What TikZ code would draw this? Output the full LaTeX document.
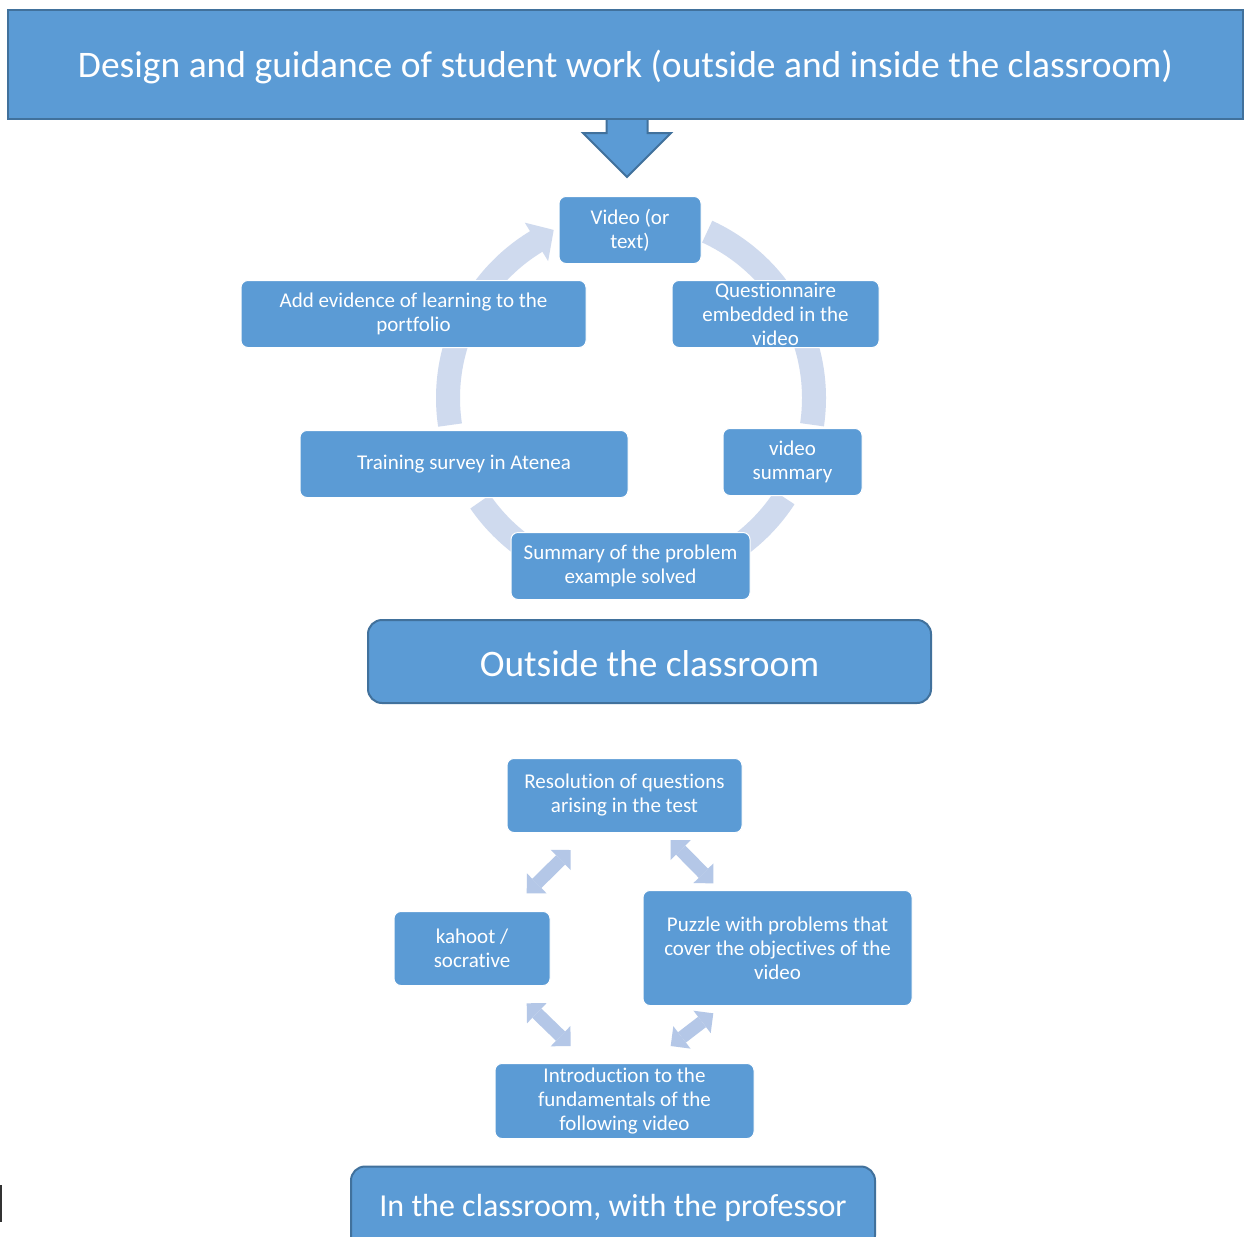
\documentclass[tikz,border=0pt]{standalone}
\usepackage{fontspec}
\setmainfont{Carlito}[Ligatures=NoCommon]
\usetikzlibrary{arrows.meta}
\definecolor{boxc}{HTML}{5B9BD5}
\definecolor{edgec}{HTML}{41719C}
\definecolor{ringc}{HTML}{CFDAEE}
\definecolor{arrc}{HTML}{B4C7E7}
\begin{document}
\begin{tikzpicture}[x=0.5pt,y=-0.5pt,
  cbox/.style={draw=white, line width=0.5pt, fill=boxc, rounded corners=3.5pt, text=white,
    align=center, inner sep=0pt, font=\fontsize{10.5}{12}\selectfont},
  bigbox/.style={draw=edgec, line width=1pt, fill=boxc, rounded corners=7pt, text=white,
    align=center, inner sep=0pt},
  ring/.style={draw=ringc, line width=12pt},
  dbl/.style={draw=arrc, line width=6.5pt,
    {Triangle[length=7.07pt,width=14.14pt,line width=0pt]}-{Triangle[length=7.07pt,width=14.14pt,line width=0pt]}}
]
\clip (0,0) rectangle (1245,1236);
\fill[white] (0,0) rectangle (1245,1236);

% top block arrow
\filldraw[fill=boxc, draw=edgec, line width=1pt]
  (606.5,112) -- (606.5,133) -- (583,133) -- (627,177) -- (671,133) -- (647.5,133) -- (647.5,112) -- cycle;
% banner
\node[bigbox, rounded corners=0pt, minimum width=617.5pt, minimum height=54.5pt,
  font=\fontsize{18.75}{22}\selectfont] (title) at (625.5,64.5)
  {\raisebox{-1.5pt}[\height][\depth]{Design and guidance of student work (outside and inside the classroom)}};

% ring arcs
\coordinate (cc) at (631,398);
\begin{scope}[shift={(cc)}]
  \draw[ring] plot[domain=-65.4:-35, samples=30, variable=\t] ({183*cos(\t)},{183*sin(\t)});
  \draw[ring] plot[domain=-20:8.4, samples=30, variable=\t] ({183*cos(\t)},{183*sin(\t)});
  \draw[ring] plot[domain=33:56, samples=30, variable=\t] ({183*cos(\t)},{183*sin(\t)});
  \draw[ring] plot[domain=125:145.5, samples=30, variable=\t] ({183*cos(\t)},{183*sin(\t)});
  \draw[ring] plot[domain=171.5:200, samples=30, variable=\t] ({183*cos(\t)},{183*sin(\t)});
  \draw[ring] plot[domain=215:239, samples=30, variable=\t] ({183*cos(\t)},{183*sin(\t)});
  \fill[ringc] (238.8:160) -- (245.3:185) -- (238.8:205) -- cycle;
\end{scope}

% cycle boxes
\node[cbox, minimum width=71pt, minimum height=33.5pt] (vid) at (630,230) {Video (or\\text)};
\node[cbox, minimum width=103.5pt, minimum height=33.5pt] (que) at (775.5,314) {Questionnaire\\embedded in the\\video};
\node[cbox, minimum width=172.5pt, minimum height=33.5pt] (add) at (413.5,314) {Add evidence of learning to the\\portfolio};
\node[cbox, minimum width=164pt, minimum height=33.5pt] (trn) at (464,464) {Training survey in Atenea};
\node[cbox, minimum width=69.5pt, minimum height=33.5pt] (vsum) at (792.5,462) {video\\summary};
\node[cbox, minimum width=119.5pt, minimum height=33.5pt] (sum) at (630.5,566) {Summary of the problem\\example solved};

% outside label
\node[bigbox, minimum width=281.5pt, minimum height=41.5pt, font=\fontsize{18.7}{22}\selectfont]
  (out) at (649.5,661.5) {\raisebox{-1pt}[\height][\depth]{Outside the classroom}};

% classroom boxes
\node[cbox, minimum width=117.5pt, minimum height=37pt] (res) at (624.5,795.5) {Resolution of questions\\arising in the test};
\node[cbox, minimum width=78pt, minimum height=37pt] (kah) at (472,948.5) {kahoot /\\socrative};
\node[cbox, minimum width=134.5pt, minimum height=57.5pt] (puz) at (777.5,948) {Puzzle with problems that\\cover the objectives of the\\video};
\node[cbox, minimum width=129.5pt, minimum height=37.5pt] (intro) at (624.5,1101) {Introduction to the\\fundamentals of the\\following video};

% double arrows
\coordinate (a1) at (526.7,893.3); \coordinate (a2) at (570.7,850);
\coordinate (b1) at (670.7,840);   \coordinate (b2) at (713.3,883.3);
\coordinate (c1) at (526.7,1003.3);\coordinate (c2) at (570.7,1046);
\coordinate (d1) at (670.7,1046);  \coordinate (d2) at (713.3,1013.3);
\draw[dbl] (a1) -- (a2);
\draw[dbl] (b1) -- (b2);
\draw[dbl] (c1) -- (c2);
\draw[dbl] (d1) -- (d2);

% in the classroom label
\node[bigbox, minimum width=262pt, minimum height=41.5pt, font=\fontsize{16}{20}\selectfont]
  (cls) at (613,1208) {In the classroom, with the professor};

% text cursor
\draw[line width=1pt, black!80] (1,1185) -- (1,1222);
\end{tikzpicture}
\end{document}
